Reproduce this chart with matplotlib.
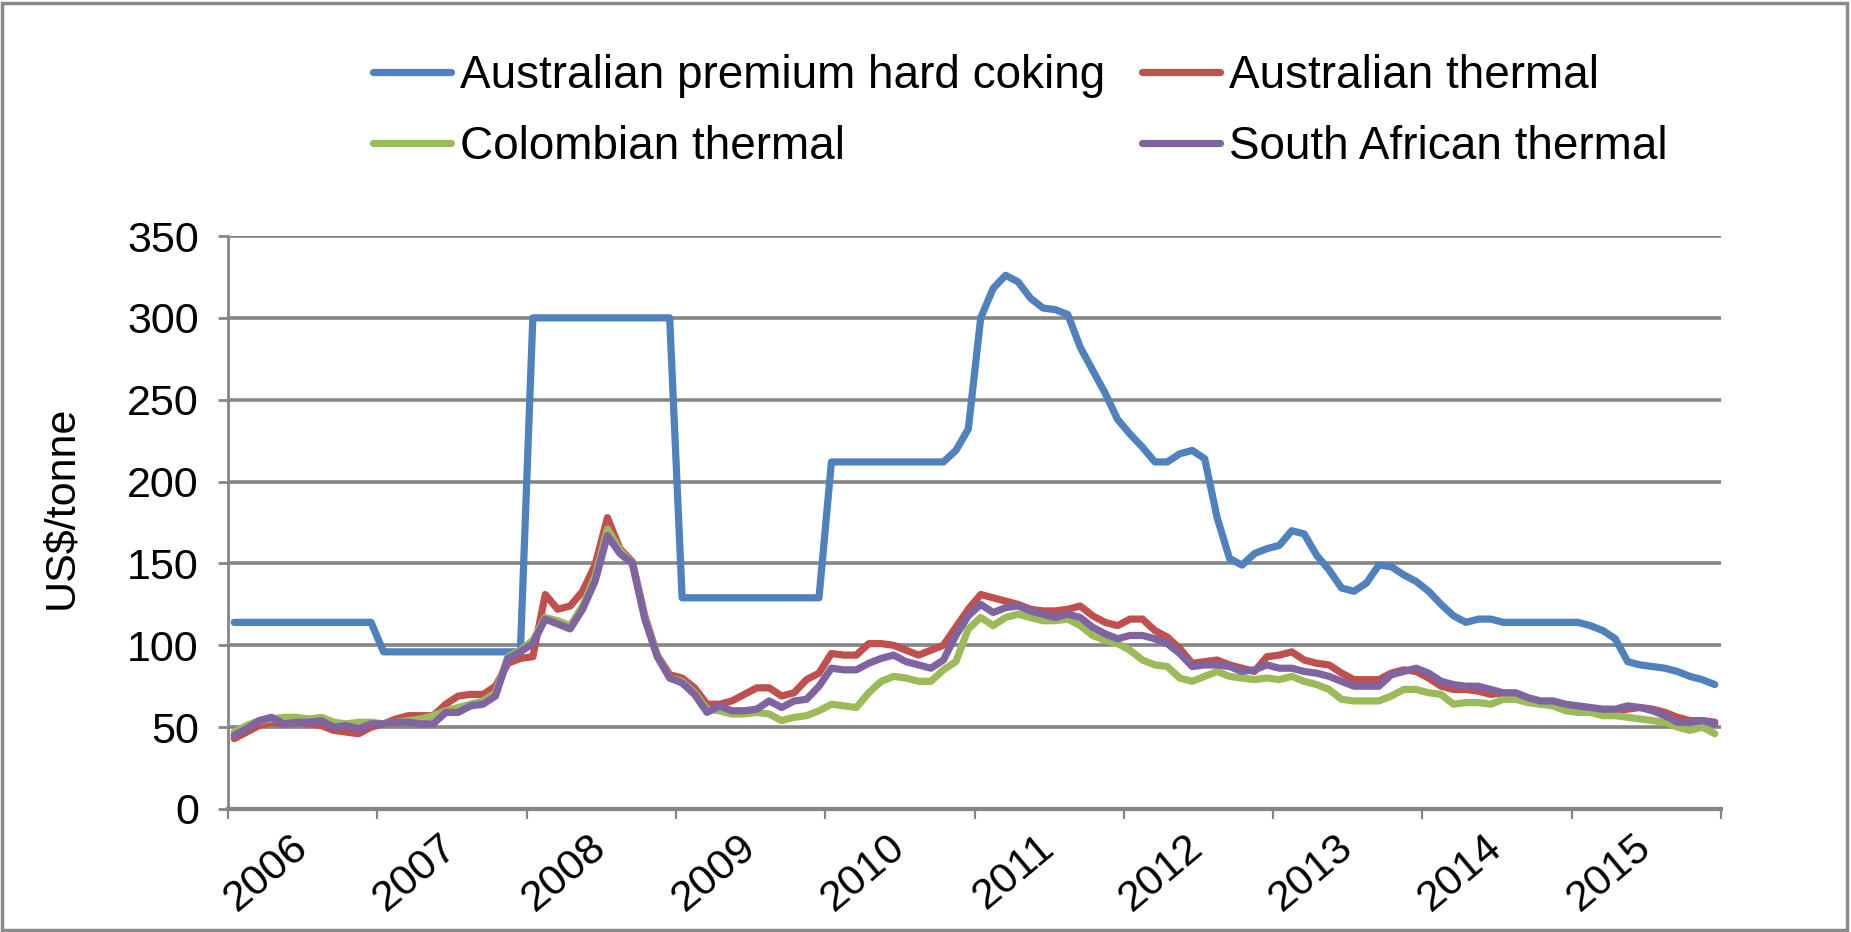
import numpy as np
import matplotlib
matplotlib.use("Agg")
import matplotlib.pyplot as plt
from matplotlib.patches import Rectangle
from matplotlib.transforms import ScaledTranslation

plt.rcParams['font.family'] = ['Liberation Sans', 'DejaVu Sans']

years = ['2006', '2007', '2008', '2009', '2010', '2011', '2012', '2013', '2014', '2015']

# monthly prices, Jan 2006 .. Dec 2015, US$/tonne
coking = [114] * 12 + [96] * 12 + [300] * 12 + [129] * 12 + [212] * 10 + [
    219, 232, 300, 318, 326, 322, 312, 306, 305, 302, 282, 268, 254, 238,
    229, 221, 212, 212, 217, 219, 214, 178, 153, 149, 156, 159, 161, 170,
    168, 155, 146, 135, 133, 138, 149, 148, 143, 139, 133, 125, 118, 114,
    116, 116, 114, 114, 114, 114, 114, 114, 114, 112, 109, 104, 90, 88,
    87, 86, 84, 81, 79, 76]

aus_thermal = [
    43, 47, 51, 53, 52, 53, 52, 51, 48, 47, 46, 50,
    52, 55, 57, 57, 57, 64, 69, 70, 70, 75, 89, 92,
    93, 131, 122, 124, 133, 149, 178, 159, 151, 118, 94, 82,
    80, 74, 64, 64, 66, 70, 74, 74, 69, 71, 79, 83,
    95, 94, 94, 101, 101, 100, 97, 94, 97, 100, 111, 122,
    131, 129, 127, 125, 122, 121, 121, 122, 124, 118, 114, 112,
    116, 116, 109, 105, 98, 89, 90, 91, 88, 86, 84, 93,
    94, 96, 91, 89, 88, 83, 79, 79, 79, 83, 85, 84,
    80, 75, 73, 73, 72, 70, 71, 69, 66, 64, 64, 63,
    62, 61, 60, 60, 61, 62, 61, 59, 56, 54, 54, 53]

col_thermal = [
    47, 51, 54, 55, 56, 56, 55, 56, 53, 52, 53, 53,
    52, 53, 54, 55, 57, 60, 62, 64, 66, 71, 93, 97,
    103, 117, 115, 112, 124, 142, 171, 158, 150, 117, 94, 80,
    78, 71, 61, 60, 58, 58, 59, 58, 54, 56, 57, 60,
    64, 63, 62, 71, 78, 81, 80, 78, 78, 85, 90, 110,
    117, 112, 117, 119, 117, 115, 115, 116, 112, 106, 103, 101,
    97, 91, 88, 87, 80, 78, 81, 84, 81, 80, 79, 80,
    79, 81, 78, 76, 73, 67, 66, 66, 66, 69, 73, 73,
    71, 70, 64, 65, 65, 64, 67, 67, 65, 64, 63, 60,
    59, 59, 57, 57, 56, 55, 54, 53, 50, 48, 50, 46]

sa_thermal = [
    45, 49, 54, 56, 52, 53, 53, 54, 50, 51, 49, 52,
    52, 53, 53, 52, 52, 59, 59, 63, 64, 69, 92, 96,
    101, 116, 113, 110, 122, 139, 167, 156, 150, 116, 93, 80,
    77, 70, 59, 63, 60, 60, 61, 66, 62, 66, 67, 75,
    86, 85, 85, 89, 92, 94, 90, 88, 86, 91, 106, 118,
    125, 120, 123, 124, 121, 119, 117, 119, 117, 111, 107, 104,
    106, 106, 104, 101, 95, 87, 88, 88, 87, 84, 85, 88,
    86, 86, 84, 83, 81, 78, 75, 75, 75, 82, 84, 86,
    83, 78, 76, 75, 75, 73, 71, 71, 68, 66, 66, 64,
    63, 62, 61, 61, 63, 62, 60, 57, 53, 53, 54, 52]

series = [
    ("Australian premium hard coking", coking, "#4F81BD"),
    ("Australian thermal", aus_thermal, "#C0504D"),
    ("Colombian thermal", col_thermal, "#9BBB59"),
    ("South African thermal", sa_thermal, "#8064A2"),
]

W, H = 1851, 932
fig = plt.figure(figsize=(W / 100, H / 100), dpi=100)
ax = fig.add_axes([228 / W, 1 - 809 / H, 1493 / W, 573 / H])

x = np.arange(len(coking))
lines = {}
for name, vals, col in series:
    ln, = ax.plot(x, vals, color=col, lw=5.2, label=name,
                  solid_joinstyle='round', solid_capstyle='round')
    lines[name] = ln

grey = '#858585'
ax.set_xlim(-0.5, len(coking) - 0.5)
ax.set_ylim(0, 350)
ax.set_yticks(np.arange(0, 351, 50))
ax.yaxis.grid(True, color=grey, lw=2.6)
ax.set_axisbelow(True)

ax.set_xticks(np.arange(-0.5, len(coking), 12))
ax.set_xticklabels([])
ax.set_xticks(np.arange(5.5, len(coking), 12), minor=True)
ax.set_xticklabels(years, minor=True, rotation=40, ha='right', va='center',
                   rotation_mode='anchor')
# nudge the year labels right, as in the original layout
shift = ScaledTranslation(12 / 100, 0, fig.dpi_scale_trans)
for lab in ax.get_xticklabels(minor=True):
    lab.set_transform(lab.get_transform() + shift)

ax.tick_params(axis='y', length=7, width=2, color=grey, pad=14, labelsize=31)
ax.tick_params(axis='x', which='major', length=7, width=1.6, color=grey)
ax.tick_params(axis='x', which='minor', length=0, pad=24, labelsize=31)

for s in ['top', 'right']:
    ax.spines[s].set_visible(False)
ax.spines['left'].set_color(grey)
ax.spines['left'].set_linewidth(2)
ax.spines['bottom'].set_color(grey)
ax.spines['bottom'].set_linewidth(3)

fig.text(61 / W, 1 - 507 / H, "US$/tonne", rotation=90, ha='center',
         va='center', fontsize=31)

order = ["Australian premium hard coking", "Colombian thermal",
         "Australian thermal", "South African thermal"]
fig.legend([lines[n] for n in order], order, ncol=2, frameon=False,
           loc='upper left', bbox_to_anchor=(373 / W, 1 - 54 / H),
           fontsize=33, handlelength=1.7, handletextpad=0.2,
           columnspacing=0.8, borderpad=0, borderaxespad=0,
           labelspacing=0.58)

fig.patches.append(Rectangle((0.001, 0.002), 0.997, 0.995,
                             transform=fig.transFigure, fill=False,
                             edgecolor='#8a8a8a', lw=2.5))

fig.savefig("out.png", dpi=100)
